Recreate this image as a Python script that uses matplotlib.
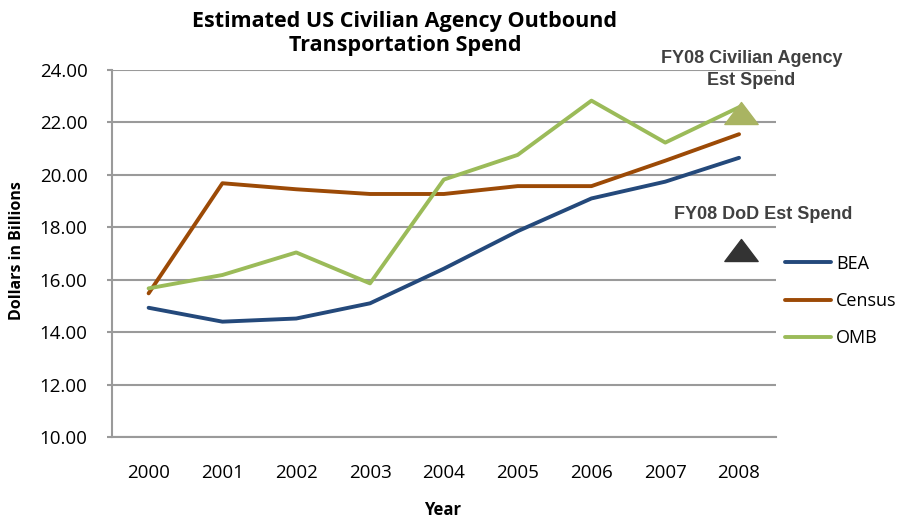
import numpy as np
import matplotlib.pyplot as plt
from matplotlib.path import Path

years = ["2000", "2001", "2002", "2003", "2004", "2005", "2006", "2007", "2008"]
bea = [14.93, 14.40, 14.52, 15.10, 16.42, 17.85, 19.10, 19.74, 20.65]
census = [15.48, 19.68, 19.45, 19.27, 19.27, 19.57, 19.57, 20.54, 21.55]
omb = [15.67, 16.18, 17.04, 15.86, 19.82, 20.76, 22.83, 21.23, 22.58]

civilian_est = 22.36   # FY08 Civilian Agency Est Spend
dod_est = 17.15        # FY08 DoD Est Spend

BLUE = "#24497B"
ORANGE = "#9C4A06"
GREEN = "#9BBB59"
GRID = "#9A9A9A"
NOTE = "#404040"

plt.rcParams['font.family'] = ['Open Sans', 'DejaVu Sans']

W, H = 898, 523
fig = plt.figure(figsize=(W / 100, H / 100), dpi=100)
ax = fig.add_axes([0.1244, 0.1644, 0.7397, 0.7018])

x = np.arange(len(years))
ax.plot(x, bea, color=BLUE, lw=2.8, label="BEA", solid_capstyle="round", zorder=3)
ax.plot(x, census, color=ORANGE, lw=2.8, label="Census", solid_capstyle="round", zorder=3)
ax.plot(x, omb, color=GREEN, lw=2.8, label="OMB", solid_capstyle="round", zorder=3)

# flat triangles for the FY08 estimates
tri = Path([(-1, -0.66), (1, -0.66), (0, 0.66), (-1, -0.66)],
           [Path.MOVETO, Path.LINETO, Path.LINETO, Path.CLOSEPOLY])
ax.plot([8.02], [civilian_est], marker=tri, ms=24, color="#A9B462", ls="none", zorder=4)
ax.plot([8.02], [dod_est], marker=tri, ms=24, color="#333333", ls="none", zorder=4)

ax.set_xlim(-0.5, 8.5)
ax.set_ylim(10, 24)
yt = np.arange(10, 24.1, 2)
ax.set_yticks(yt)
ax.set_yticklabels([f"{v:.2f}" for v in yt], fontsize=13.5)
ax.set_xticks(x)
ax.set_xticklabels(years, fontsize=13.5)
ax.tick_params(axis="x", length=0, pad=19.5)
ax.tick_params(axis="y", length=3.5, width=1.5, color=GRID, pad=13.9)

ax.grid(axis="y", color=GRID, lw=1.5)
ax.set_axisbelow(True)
for s in ["top", "right"]:
    ax.spines[s].set_visible(False)
for s in ["left", "bottom"]:
    ax.spines[s].set_color(GRID)
    ax.spines[s].set_linewidth(1.5)

fig.text(443 / W, 1 - 510 / H, "Year", ha="center", va="center",
         fontsize=12, fontweight="bold")
fig.text(17.5 / W, 1 - 251 / H, "Dollars in Billions", rotation=90,
         ha="center", va="center", fontsize=11.5, fontweight="bold")

fig.text(405 / W, 1 - 27 / H, "Estimated US Civilian Agency Outbound",
         ha="center", va="baseline", fontsize=15.5, fontweight="bold")
fig.text(405 / W, 1 - 51 / H, "Transportation Spend",
         ha="center", va="baseline", fontsize=15.5, fontweight="bold")

fig.text(751.5 / W, 1 - 63 / H, "FY08 Civilian Agency", ha="center", va="baseline",
         fontsize=13, fontweight="bold", color=NOTE, family="Liberation Sans")
fig.text(751.5 / W, 1 - 85 / H, "Est Spend", ha="center", va="baseline",
         fontsize=13, fontweight="bold", color=NOTE, family="Liberation Sans")
fig.text(763 / W, 1 - 219 / H, "FY08 DoD Est Spend", ha="center", va="baseline",
         fontsize=13, fontweight="bold", color=NOTE, family="Liberation Sans")

ax.legend(loc="upper left", bbox_to_anchor=(778 / W, 0.527), bbox_transform=fig.transFigure,
          frameon=False, fontsize=13, handlelength=2.55, labelspacing=1.07,
          handletextpad=0.25, borderaxespad=0)

fig.savefig("out.png", dpi=100)
